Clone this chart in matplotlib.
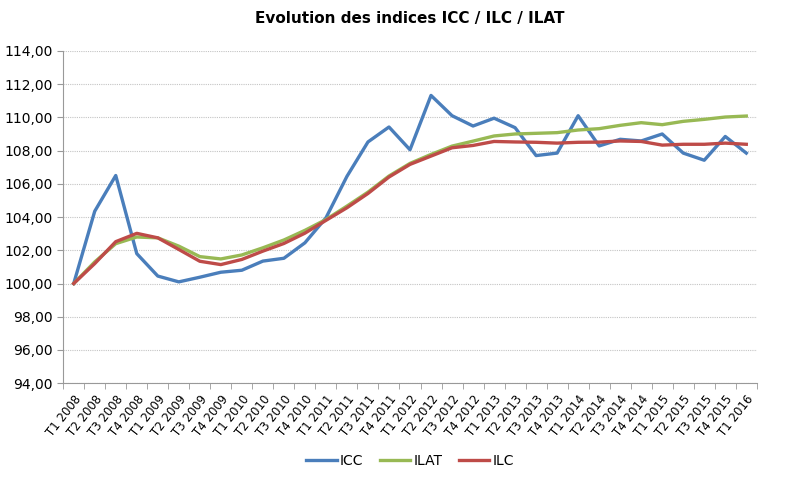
import numpy as np
import matplotlib.pyplot as plt
from matplotlib.ticker import FuncFormatter, MultipleLocator

quarters = []
for year in range(2008, 2016):
    for q in range(1, 5):
        quarters.append("T%d %d" % (q, year))
quarters.append("T1 2016")

icc = [100.00, 104.35, 106.50, 101.80, 100.45, 100.10, 100.38, 100.68, 100.80,
       101.35, 101.52, 102.45, 103.95, 106.45, 108.52, 109.42, 108.05, 111.32,
       110.10, 109.48, 109.95, 109.38, 107.70, 107.85, 110.10, 108.28, 108.68,
       108.58, 109.00, 107.85, 107.42, 108.85, 107.85]
ilat = [100.00, 101.30, 102.40, 102.80, 102.75, 102.25, 101.62, 101.48, 101.72,
        102.15, 102.62, 103.20, 103.85, 104.66, 105.50, 106.47, 107.23, 107.77,
        108.27, 108.57, 108.88, 109.00, 109.04, 109.08, 109.24, 109.32, 109.52,
        109.68, 109.56, 109.76, 109.88, 110.02, 110.08]
ilc = [100.00, 101.20, 102.52, 103.02, 102.75, 102.05, 101.34, 101.14, 101.45,
       101.95, 102.41, 103.03, 103.80, 104.56, 105.42, 106.41, 107.17, 107.67,
       108.17, 108.31, 108.55, 108.52, 108.50, 108.45, 108.50, 108.51, 108.58,
       108.55, 108.33, 108.38, 108.38, 108.45, 108.38]

fig, ax = plt.subplots(1, figsize=(8, 4.99), dpi=100)
fig.subplots_adjust(left=0.079, right=0.946, top=0.898, bottom=0.232)

x = np.arange(len(quarters))
ax.plot(x, icc, color="#4A7EBB", lw=2.4, label="ICC", solid_joinstyle="round")
ax.plot(x, ilat, color="#98B954", lw=2.4, label="ILAT", solid_joinstyle="round")
ax.plot(x, ilc, color="#BE4B48", lw=2.4, label="ILC", solid_joinstyle="round")

ax.set_ylim(94, 114)
ax.set_xlim(-0.5, len(quarters) - 0.5)
ax.yaxis.set_major_locator(MultipleLocator(2))
ax.yaxis.set_major_formatter(FuncFormatter(lambda v, p: ("%.2f" % v).replace(".", ",")))
ax.grid(axis="y", color="#c4c4c4", ls=(0, (1, 1)), lw=0.8)
ax.set_axisbelow(True)

ax.set_xticks(x)
ax.set_xticklabels(quarters, rotation=52, ha="right", rotation_mode="anchor", fontsize=8.5)
ax.set_xticks(np.arange(len(quarters) + 1) - 0.5, minor=True)
ax.tick_params(axis="x", which="major", length=0, pad=7)
ax.tick_params(axis="x", which="minor", length=4, color="#999999")
ax.tick_params(axis="y", length=4, color="#999999", labelsize=10)

for s in ["top", "right"]:
    ax.spines[s].set_visible(False)
for s in ["left", "bottom"]:
    ax.spines[s].set_color("#999999")

ax.set_title("Evolution des indices ICC / ILC / ILAT", fontsize=11, fontweight="bold", pad=20)
ax.legend(loc="center", bbox_to_anchor=(0.5, -0.235), ncol=3, frameon=False,
          fontsize=10, handlelength=2.2, columnspacing=1.2, handletextpad=0.2)

plt.savefig("out.png", dpi=100)
